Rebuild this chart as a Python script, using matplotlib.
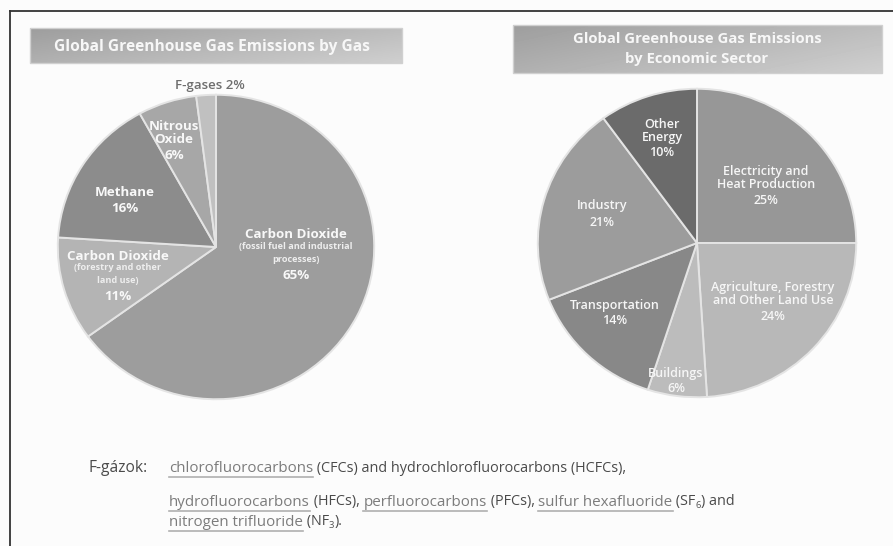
import numpy as np
import matplotlib
matplotlib.use("Agg")
import matplotlib.pyplot as plt
from matplotlib.patches import Rectangle

# ── data ────────────────────────────────────────────────────────────
gas_names = ["Carbon Dioxide fossil", "Carbon Dioxide forestry", "Methane",
             "Nitrous Oxide", "F-gases"]
gas_share = [65, 11, 16, 6, 2]
gas_colors = ["#9d9d9d", "#b4b4b4", "#8c8c8c", "#a7a7a7", "#c0c0c0"]

sector_names = ["Electricity and Heat Production",
                "Agriculture, Forestry and Other Land Use", "Buildings",
                "Transportation", "Industry", "Other Energy"]
sector_share = [25, 24, 6, 14, 21, 10]
sector_colors = ["#979797", "#b8b8b8", "#bcbcbc", "#888888", "#9c9c9c", "#6b6b6b"]

W, H = 893, 546
fig = plt.figure(figsize=(W / 100, H / 100), dpi=100)
fig.patch.set_facecolor("#fcfcfc")


# ── pies: one axes each, slightly elliptical like the scan ─────────
def pie_axes(cx, cy, rx, ry, shares, colors):
    pa = fig.add_axes([(cx - rx) / W, 1 - (cy + ry) / H, 2 * rx / W, 2 * ry / H],
                      zorder=1)
    pa.pie(shares, colors=colors, startangle=90, counterclock=False, radius=1,
           wedgeprops=dict(edgecolor="#e4e4e4", linewidth=1.4))
    pa.set_aspect("auto")
    pa.set_xlim(-1.005, 1.005)
    pa.set_ylim(-1.005, 1.005)
    pa.axis("off")


pie_axes(216, 247, 159, 153, gas_share, gas_colors)
pie_axes(697, 243, 160, 155, sector_share, sector_colors)

# overlay axes in pixel coordinates (y down)
ax = fig.add_axes([0, 0, 1, 1], zorder=2)
ax.patch.set_alpha(0)
ax.set_xlim(0, W)
ax.set_ylim(H, 0)
ax.axis("off")


def txt(x, y, s, fontsize=9, **kw):
    # y is the visual centre of the capitals; place on the baseline
    ax.text(x, y + 0.5 * fontsize, s, ha="center", va="baseline",
            fontsize=fontsize, **kw)


# ── title boxes with gradient ──────────────────────────────────────
def title_box(x0, x1, y0, y1):
    gx = np.linspace(0, 1, 64)
    gy = np.linspace(0, 1, 16)[:, None]
    g = 0.62 + 0.12 * gx[None, :] + 0.07 * gy
    ax.imshow(g, cmap="gray", vmin=0, vmax=1, extent=(x0, x1, y1, y0),
              aspect="auto", interpolation="bicubic", zorder=1)
    ax.add_patch(Rectangle((x0, y0), x1 - x0, y1 - y0, fill=False,
                           edgecolor="#d0d0d0", lw=1, zorder=2))


title_box(30, 402, 28, 63)
title_box(513, 882, 25, 73)
tf = dict(family="Open Sans", fontweight="bold", color="#f7f7f7", zorder=3)
txt(212, 45, "Global Greenhouse Gas Emissions by Gas", fontsize=11.2, **tf)
txt(697, 38, "Global Greenhouse Gas Emissions", fontsize=10.7, **tf)
txt(697, 58, "by Economic Sector", fontsize=10.7, **tf)

# ── left pie labels ────────────────────────────────────────────────
lb = dict(family="Open Sans", fontweight="bold", color="#f8f8f8", fontsize=9.6)
ls = dict(family="Open Sans", fontweight="bold", color="#eeeeee", fontsize=6.6)
txt(296, 233, "Carbon Dioxide", **lb)
txt(296, 246, "(fossil fuel and industrial", **ls)
txt(296, 259, "processes)", **ls)
txt(296, 274, "65%", **lb)
txt(118, 255, "Carbon Dioxide", **lb)
txt(118, 267, "(forestry and other", **ls)
txt(118, 280, "land use)", **ls)
txt(118, 295, "11%", **lb)
txt(125, 191, "Methane", **lb)
txt(125, 207, "16%", **lb)
txt(174, 125, "Nitrous", **lb)
txt(174, 138, "Oxide", **lb)
txt(174, 154, "6%", **lb)
txt(210, 84, "F-gases 2%", family="Open Sans", fontweight="semibold",
    color="#6e6e6e", fontsize=9.5)

# ── right pie labels ───────────────────────────────────────────────
rb = dict(family="Open Sans", fontweight="semibold", color="#f6f6f6", fontsize=9)
txt(662, 123, "Other", **rb)
txt(662, 136, "Energy", **rb)
txt(662, 151, "10%", **rb)
txt(766, 171, "Electricity and", **rb)
txt(766, 183, "Heat Production", **rb)
txt(766, 199, "25%", **rb)
txt(602, 204, "Industry", **rb)
txt(602, 221, "21%", **rb)
txt(773, 287, "Agriculture, Forestry", **rb)
txt(773, 299, "and Other Land Use", **rb)
txt(773, 315, "24%", **rb)
txt(615, 304, "Transportation", **rb)
txt(615, 319, "14%", **rb)
txt(676, 373, "Buildings", **rb)
txt(676, 388, "6%", **rb)

# ── frame lines ────────────────────────────────────────────────────
ax.plot([9.5, W], [10.5, 10.5], color="#333333", lw=1.3)
ax.plot([9.5, 9.5], [10.5, H], color="#333333", lw=1.3)

# ── footnote with underlined words ─────────────────────────────────
renderer = fig.canvas.get_renderer()
fn = dict(family="Open Sans", fontsize=10.4, color="#4a4a4a")
fu = dict(family="Open Sans", fontsize=10.9, color="#7c7c7c")


def write_line(x, y, parts):
    for s, kind in parts:
        if kind == "sub":
            t = ax.text(x, y + 4, s, va="center", ha="left", color="#555555",
                        family="Open Sans", fontsize=6.8)
        else:
            t = ax.text(x, y, s, va="center", ha="left", **(fu if kind == "u" else fn))
        w = t.get_window_extent(renderer).width
        if kind == "u":
            ax.plot([x, x + w], [y + 8.5, y + 8.5], color="#b0b0b0", lw=1.2)
        x += w


ax.text(89, 468, "F-gázok:", va="center", ha="left", family="Open Sans",
        fontsize=11.2, color="#4a4a4a")
write_line(169, 468, [("chlorofluorocarbons", "u"),
                      (" (CFCs) and hydrochlorofluorocarbons (HCFCs),", "n")])
write_line(169, 502, [("hydrofluorocarbons", "u"), (" (HFCs), ", "n"),
                      ("perfluorocarbons", "u"), (" (PFCs), ", "n"),
                      ("sulfur hexafluoride", "u"), (" (SF", "n"), ("6", "sub"),
                      (") and", "n")])
write_line(169, 522, [("nitrogen trifluoride", "u"), (" (NF", "n"), ("3", "sub"),
                      (").", "n")])

fig.savefig("out.png", dpi=100, facecolor=fig.get_facecolor())
